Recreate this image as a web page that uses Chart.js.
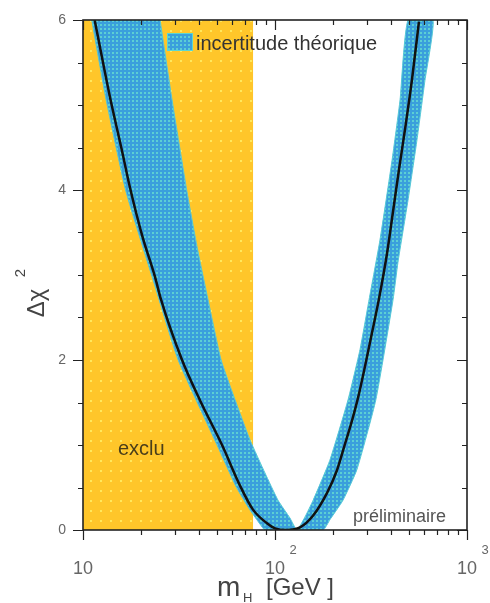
<!DOCTYPE html>
<html>
<head>
<meta charset="utf-8">
<script src="https://cdn.jsdelivr.net/npm/chart.js@4.4.0/dist/chart.umd.min.js"></script>
<style>
  html, body { margin: 0; padding: 0; background: #fff; }
  canvas { display: block; }
</style>
</head>
<body>
<canvas id="chi2" width="490" height="603"></canvas>
<script>
// best fit curve: Higgs mass [GeV] vs delta chi2
const curveMass = [11.5, 13.8, 16.0, 17.6, 20.3, 23.7, 25.5, 32.8, 40.6, 53.0, 65.8, 76.8, 90.8, 100, 115, 135, 158, 187, 210, 232, 252, 271, 294, 320, 348, 383, 412, 443, 476, 517, 562];
const curveChi2 = [6.0, 5.1, 4.45, 4.02, 3.47, 2.98, 2.71, 2.0, 1.53, 1.0, 0.52, 0.24, 0.08, 0.02, 0.0, 0.03, 0.17, 0.44, 0.7, 1.02, 1.29, 1.56, 1.92, 2.32, 2.72, 3.25, 3.75, 4.25, 4.72, 5.3, 5.98];

// theory uncertainty band, outline walked round (outer edge then inner edge)
const bandMass = [11.1, 13.2, 16.75, 22.9, 31.3, 49.9, 62.7, 74.1, 83.5, 88.7,
  177.8, 193, 226, 267, 335, 412, 437, 493, 549, 604, 665,
  493, 448, 407, 352, 309, 277, 240, 193, 158, 143, 130,
  119.7, 103.7, 88.7, 74.1, 62.0, 52.4, 44.8, 39.6, 34.8, 29.1, 25.2];
const bandChi2 = [6.0, 5.06, 3.98, 2.98, 2.0, 1.0, 0.51, 0.235, 0.07, 0.0,
  0.0, 0.12, 0.35, 0.71, 1.53, 2.71, 3.15, 3.88, 4.59, 5.29, 6.0,
  6.0, 5.06, 4.35, 3.41, 2.71, 2.12, 1.53, 0.82, 0.35, 0.15, 0.0,
  0.14, 0.35, 0.67, 1.06, 1.53, 2.0, 2.71, 3.29, 3.98, 5.06, 6.0];

// excluded region (direct search)
const excludedMass = [10, 77];
const excludedChi2 = [6, 6];

const xTickValues = [10, 20, 30, 40, 50, 60, 70, 80, 90, 100, 200, 300, 400, 500, 600, 700, 800, 900, 1000];
const xLabelValues = [10, 100, 1000];
const xLabelExp = ['', '2', '3'];
const yTickValues = [0, 0.5, 1, 1.5, 2, 2.5, 3, 3.5, 4, 4.5, 5, 5.5, 6];
const yLabelValues = [0, 2, 4, 6];

const SANS = '"Liberation Sans", Arial, sans-serif';

function makePattern(size, base, dot, dotSize) {
  const c = document.createElement('canvas');
  c.width = size; c.height = size;
  const g = c.getContext('2d');
  g.fillStyle = base;
  g.fillRect(0, 0, size, size);
  g.fillStyle = dot;
  g.fillRect(0, 0, dotSize, dotSize);
  return g.createPattern(c, 'repeat');
}

const yellowFill = makePattern(10, '#ffc62a', '#ffe85c', 2);
const blueFill = makePattern(4, '#3a9fdc', '#5ccfd4', 2);

function pts(xs, ys) {
  return xs.map((x, i) => ({ x: x, y: ys[i] }));
}
function isIn(v, list) {
  return list.some(l => Math.abs(l - v) < 1e-6 * l + 1e-9);
}

const decorations = {
  id: 'decorations',
  afterDraw(chart) {
    const { ctx, chartArea: a, scales } = chart;
    const xs = scales.x, ys = scales.y;
    ctx.save();

    // tick marks on all four sides
    ctx.strokeStyle = '#222';
    ctx.lineWidth = 1.2;
    ctx.beginPath();
    xTickValues.forEach(v => {
      const px = Math.round(xs.getPixelForValue(v)) + 0.5;
      const len = isIn(v, xLabelValues) ? 10 : 5;
      ctx.moveTo(px, a.bottom); ctx.lineTo(px, a.bottom + len);
      ctx.moveTo(px, a.top); ctx.lineTo(px, a.top + len);
    });
    yTickValues.forEach(v => {
      const py = Math.round(ys.getPixelForValue(v)) + 0.5;
      const len = isIn(v, yLabelValues) ? 10 : 5;
      ctx.moveTo(a.left - len, py); ctx.lineTo(a.left, py);
      ctx.moveTo(a.right - len, py); ctx.lineTo(a.right, py);
    });
    ctx.stroke();

    // frame
    ctx.lineWidth = 1.6;
    ctx.strokeRect(a.left, a.top, a.right - a.left, a.bottom - a.top);

    // exponents of x labels
    ctx.fillStyle = '#666';
    ctx.font = '13px ' + SANS;
    ctx.textAlign = 'center';
    ctx.textBaseline = 'alphabetic';
    xLabelValues.forEach((v, i) => {
      if (xLabelExp[i]) ctx.fillText(xLabelExp[i], xs.getPixelForValue(v) + 18, 554);
    });

    // legend
    ctx.fillStyle = blueFill;
    ctx.fillRect(a.left + 84, a.top + 13, 26, 18);
    ctx.strokeStyle = '#5cd6d0';
    ctx.lineWidth = 1;
    ctx.strokeRect(a.left + 84.5, a.top + 13.5, 25, 17);
    ctx.fillStyle = '#333';
    ctx.textAlign = 'left';
    ctx.font = '20px ' + SANS;
    ctx.fillText('incertitude théorique', a.left + 113, a.top + 30);

    // annotations
    ctx.fillStyle = '#4a3e1a';
    ctx.font = '20px ' + SANS;
    ctx.fillText('exclu', 118, 455);
    ctx.fillStyle = '#555';
    ctx.font = '18px ' + SANS;
    ctx.fillText('préliminaire', 353, 522);

    // x title
    ctx.fillStyle = '#444';
    ctx.font = '28px ' + SANS;
    ctx.fillText('m', 217, 596);
    ctx.font = '13px ' + SANS;
    ctx.fillText('H', 243, 602);
    ctx.font = '24px ' + SANS;
    ctx.fillText('[GeV ]', 266, 595);

    // y title
    ctx.rotate(-Math.PI / 2);
    ctx.textAlign = 'center';
    ctx.font = '24px ' + SANS;
    ctx.fillText('Δχ', -303, 44);
    ctx.font = '15px ' + SANS;
    ctx.fillText('2', -273, 25);

    ctx.restore();
  }
};

new Chart(document.getElementById('chi2'), {
  type: 'scatter',
  data: {
    datasets: [
      {
        label: 'fit',
        data: pts(curveMass, curveChi2),
        showLine: true,
        borderColor: '#111',
        borderWidth: 2.5,
        pointRadius: 0,
        cubicInterpolationMode: 'monotone',
        fill: false,
        order: 1
      },
      {
        label: 'incertitude théorique',
        data: pts(bandMass, bandChi2),
        showLine: true,
        borderColor: '#55c8d6',
        borderWidth: 1,
        backgroundColor: blueFill,
        pointRadius: 0,
        tension: 0.15,
        fill: 'shape',
        order: 2
      },
      {
        label: 'exclu',
        data: pts(excludedMass, excludedChi2),
        showLine: true,
        borderWidth: 0,
        borderColor: 'rgba(0,0,0,0)',
        backgroundColor: yellowFill,
        pointRadius: 0,
        fill: 'start',
        order: 3
      }
    ]
  },
  options: {
    responsive: false,
    animation: false,
    layout: { padding: { top: 20, right: 23, left: 0, bottom: 0 } },
    plugins: {
      legend: { display: false },
      tooltip: { enabled: false }
    },
    scales: {
      x: {
        type: 'logarithmic',
        min: 10,
        max: 1000,
        grid: { display: false },
        border: { display: false },
        afterBuildTicks: s => { s.ticks = xTickValues.map(v => ({ value: v })); },
        afterFit: s => { s.height = 73; s.paddingLeft = 0; s.paddingRight = 0; },
        ticks: {
          autoSkip: false,
          maxRotation: 0,
          padding: 20,
          color: '#666',
          font: { family: SANS, size: 18 },
          callback: v => isIn(v, xLabelValues) ? '10' : ''
        }
      },
      y: {
        type: 'linear',
        min: 0,
        max: 6,
        grid: { display: false },
        border: { display: false },
        afterFit: s => { s.width = 83; s.paddingTop = 0; s.paddingBottom = 0; },
        ticks: {
          stepSize: 0.5,
          padding: 9,
          color: '#666',
          font: { family: SANS, size: 14 },
          callback: v => isIn(v, yLabelValues) ? String(v) : ''
        }
      }
    }
  },
  plugins: [decorations]
});
</script>
</body>
</html>
